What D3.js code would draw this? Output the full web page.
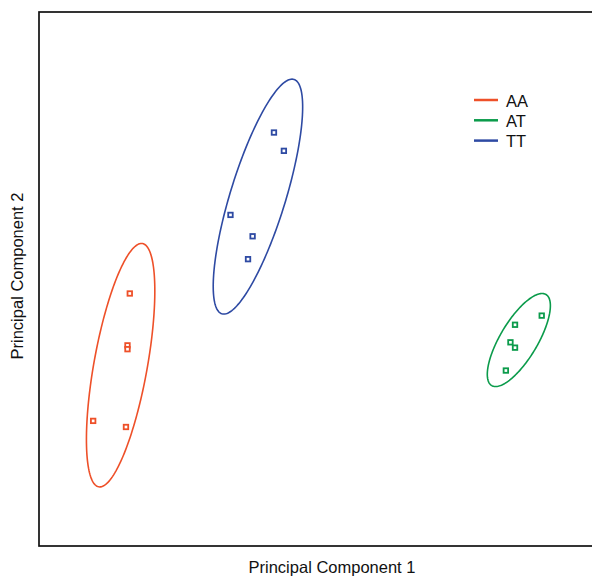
<!DOCTYPE html>
<html>
<head>
<meta charset="utf-8">
<script src="https://cdn.jsdelivr.net/npm/d3@7"></script>
<style>
  html, body { margin: 0; padding: 0; background: #fff; }
  svg { display: block; font-family: "Liberation Sans", Arial, sans-serif; }
</style>
</head>
<body>
<div id="chart"></div>
<script>
// groups and colours
const groups = ['AA', 'AT', 'TT'];
const colors = { AA: '#ee5029', AT: '#0b9b4b', TT: '#2e4aa3' };

// PC scores per sample
const pc1AA = [-2.81, -2.84, -2.84, -3.29, -2.86];
const pc2AA = [-0.19, -0.87, -0.92, -1.86, -1.94];
const pc1AT = [2.59, 2.24, 2.18, 2.24, 2.12];
const pc2AT = [-0.48, -0.60, -0.83, -0.90, -1.20];
const pc1TT = [-0.92, -0.79, -1.49, -1.20, -1.26];
const pc2TT = [1.92, 1.68, 0.84, 0.56, 0.26];

// confidence ellipses: centre, semi-axes, rotation (deg)
const ellipseCx = { AA: -2.93, AT: 2.29, TT: -1.13 };
const ellipseCy = { AA: -1.13, AT: -0.80, TT: 1.08 };
const ellipseA = { AA: 1.62, AT: 0.695, TT: 1.607 };
const ellipseB = { AA: 0.35, AT: 0.245, TT: 0.363 };
const ellipseAngle = { AA: 79.8, AT: 59.2, TT: 72.9 };

const width = 592, height = 576;
const margin = { left: 39, top: 12, bottom: 30 };

const svg = d3.select('#chart').append('svg')
  .attr('width', width).attr('height', height);

const x = d3.scaleLinear().domain([-4, 3.7]).range([margin.left, 626.4]);
const y = d3.scaleLinear().domain([-3.5, 3.5]).range([height - margin.bottom, margin.top]);

// frame
svg.append('rect')
  .attr('x', x(-4)).attr('y', y(3.5))
  .attr('width', x(3.7) - x(-4)).attr('height', y(-3.5) - y(3.5))
  .attr('fill', 'none').attr('stroke', '#111').attr('stroke-width', 1.7);

const pts = {
  AA: pc1AA.map((v, i) => [v, pc2AA[i]]),
  AT: pc1AT.map((v, i) => [v, pc2AT[i]]),
  TT: pc1TT.map((v, i) => [v, pc2TT[i]])
};

const line = d3.line().x(d => x(d[0])).y(d => y(d[1])).curve(d3.curveLinearClosed);

groups.forEach(g => {
  const th = ellipseAngle[g] * Math.PI / 180;
  const ring = d3.range(0, 2 * Math.PI, Math.PI / 90).map(t => {
    const ex = ellipseA[g] * Math.cos(t), ey = ellipseB[g] * Math.sin(t);
    return [ellipseCx[g] + ex * Math.cos(th) - ey * Math.sin(th),
            ellipseCy[g] + ex * Math.sin(th) + ey * Math.cos(th)];
  });
  svg.append('path').attr('d', line(ring))
    .attr('fill', 'none').attr('stroke', colors[g]).attr('stroke-width', 1.6);

  svg.append('g').selectAll('rect').data(pts[g]).join('rect')
    .attr('x', d => x(d[0]) - 2.25).attr('y', d => y(d[1]) - 2.25)
    .attr('width', 4.5).attr('height', 4.5)
    .attr('fill', '#fff').attr('stroke', colors[g]).attr('stroke-width', 1.8);
});

// legend
const legend = svg.append('g').attr('transform', 'translate(474,100)');
groups.forEach((g, i) => {
  const row = legend.append('g').attr('transform', `translate(0,${i * 20.3})`);
  row.append('line').attr('x1', 0).attr('x2', 24).attr('y1', 0).attr('y2', 0)
    .attr('stroke', colors[g]).attr('stroke-width', 2.5);
  row.append('text').attr('x', 32).attr('y', 6.5)
    .attr('font-size', '16.5px').attr('fill', '#111').text(g);
});

// axis titles
svg.append('text')
  .attr('x', 332).attr('y', 572.5).attr('text-anchor', 'middle')
  .attr('font-size', '16.5px').attr('fill', '#111')
  .text('Principal Component 1');

svg.append('text')
  .attr('transform', 'translate(23,276) rotate(-90)')
  .attr('text-anchor', 'middle')
  .attr('font-size', '16.5px').attr('fill', '#111')
  .text('Principal Component 2');
</script>
</body>
</html>
